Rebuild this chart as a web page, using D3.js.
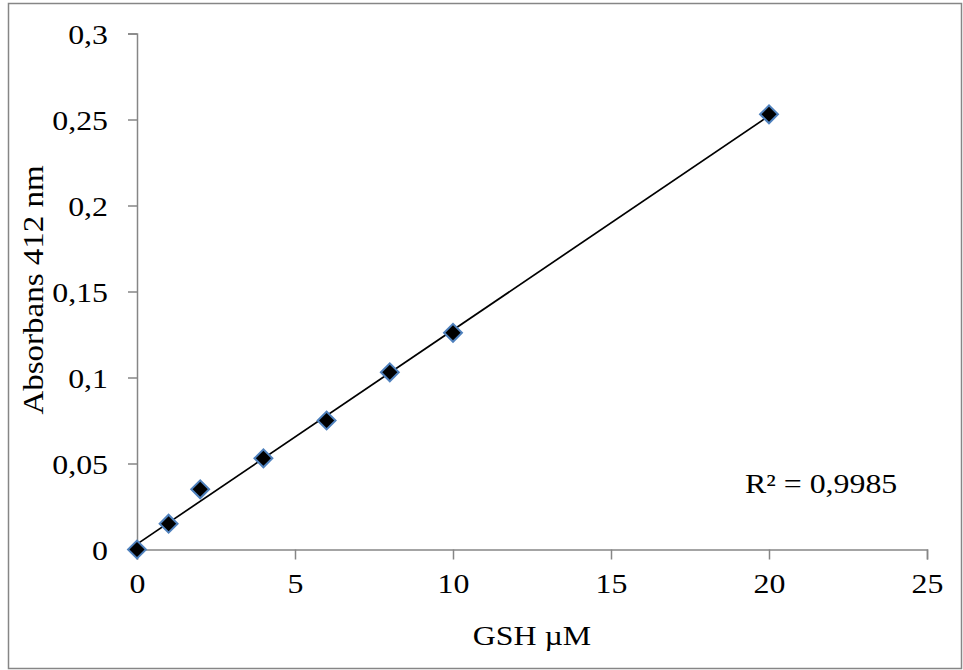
<!DOCTYPE html>
<html lang="en">
<head>
    <meta charset="UTF-8">
    <title>GSH standard curve</title>
    <script src="https://d3js.org/d3.v7.min.js"></script>
    <style>
        body { margin: 0; background: #fff; }
        text { font-family: "Liberation Serif", "Times New Roman", serif; fill: #000; }
    </style>
</head>
<body>
    <svg width="963" height="670"></svg>
</body>
<script>
    // GSH concentration (uM) and absorbance at 412 nm
    let gsh = [0, 1, 2, 4, 6, 8, 10, 20]
    let absorbance = [0, 0.015, 0.035, 0.053, 0.075, 0.103, 0.126, 0.253]
    let xTicks = [0, 5, 10, 15, 20, 25]
    let yTicks = [0, 0.05, 0.1, 0.15, 0.2, 0.25, 0.3]
    let r2Label = 'R² = 0,9985'

    let svg = d3.select('svg')
    let fmt = d => String(d).replace('.', ',')
    let sx = 1.18 // text in the original is a bit wide

    // outer chart border
    svg.append('rect')
        .attr('x', 8.5).attr('y', 3.5)
        .attr('width', 953).attr('height', 665)
        .attr('fill', 'none').attr('stroke', '#868686').attr('stroke-width', 1.5)

    let x = d3.scaleLinear().domain([0, 25]).range([137, 927])
    let y = d3.scaleLinear().domain([0, 0.3]).range([549.5, 33.5])

    let axisColor = '#868686'

    let xAxis = svg.append('g')
        .attr('transform', 'translate(0,549.5)')
        .call(d3.axisBottom(x).tickValues(xTicks).tickSize(10).tickPadding(14).tickFormat(fmt))
    let yAxis = svg.append('g')
        .attr('transform', 'translate(137,0)')
        .call(d3.axisLeft(y).tickValues(yTicks).tickSize(9).tickPadding(20).tickFormat(fmt))

    for (let ax of [xAxis, yAxis]) {
        ax.select('.domain').attr('stroke', axisColor).attr('stroke-width', 1.5)
        ax.selectAll('.tick line').attr('stroke', axisColor).attr('stroke-width', 1.5)
        ax.selectAll('.tick text')
            .attr('font-family', '"Liberation Serif", serif')
            .attr('font-size', 27)
            .attr('fill', '#000')
            .attr('transform', `scale(${sx},1)`)
    }
    yAxis.selectAll('.tick text').attr('dy', '0.36em').attr('x', -29 / sx)

    // linear trend line from least squares
    let mx = d3.mean(gsh), my = d3.mean(absorbance)
    let sxy = d3.sum(gsh, (d, i) => (d - mx) * (absorbance[i] - my))
    let sxx = d3.sum(gsh, d => (d - mx) * (d - mx))
    let slope = sxy / sxx
    let intercept = my - slope * mx
    let xMin = d3.min(gsh), xMax = d3.max(gsh)

    svg.append('line')
        .attr('x1', x(xMin)).attr('y1', y(intercept + slope * xMin))
        .attr('x2', x(xMax)).attr('y2', y(intercept + slope * xMax))
        .attr('stroke', '#000').attr('stroke-width', 1.7)

    // diamond markers
    let diamond = d3.symbol().type(d3.symbolSquare).size(160)
    svg.selectAll('path.pt')
        .data(gsh)
        .join('path')
        .classed('pt', true)
        .attr('d', diamond)
        .attr('transform', (d, i) => `translate(${x(d)},${y(absorbance[i])}) rotate(45)`)
        .attr('fill', '#000')
        .attr('stroke', '#4f81bd')
        .attr('stroke-width', 2)

    // titles
    svg.append('text')
        .attr('transform', `translate(532,645) scale(${sx},1)`)
        .attr('text-anchor', 'middle')
        .attr('font-size', 27)
        .text('GSH µM')

    svg.append('text')
        .attr('transform', 'translate(43,290) rotate(-90) scale(1.1,1)')
        .attr('text-anchor', 'middle')
        .attr('font-size', 30)
        .text('Absorbans 412 nm')

    svg.append('text')
        .attr('transform', `translate(745,493) scale(${sx},1)`)
        .attr('font-size', 27)
        .text(r2Label)
</script>
</html>
